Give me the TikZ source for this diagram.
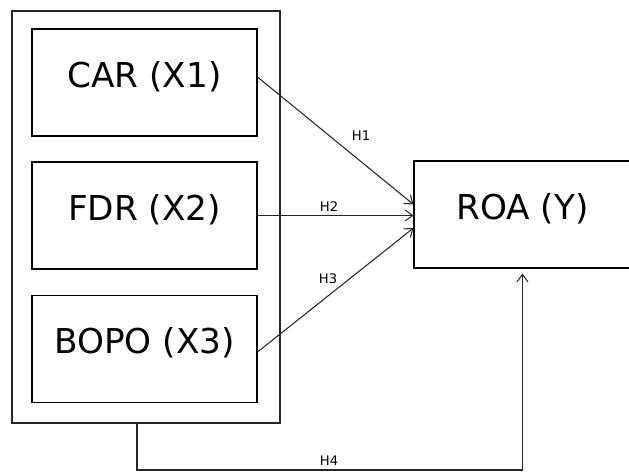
\documentclass[tikz,border=0pt]{standalone}
\usepackage{fontspec}
\usetikzlibrary{arrows.meta}
\setmainfont{DejaVu Sans}
\begin{document}
\begin{tikzpicture}[x=0.02cm, y=-0.02cm, line width=0.6pt,
    varbox/.style={draw, minimum width=4.5cm, minimum height=2.14cm,
      text height=0.5cm, text depth=0.32cm, inner sep=0pt,
      font=\fontsize{19.5}{23}\selectfont},
    hyp/.style={font=\fontsize{7.5}{9}\selectfont},
    link/.style={-{Straight Barb[length=0.15cm, width=0.22cm]}, black!85}]

    \useasboundingbox (0,0) rectangle (629,471);
    \clip (0,0) rectangle (629,471);

    \coordinate (GU) at (12, 11);
    \coordinate (GD) at (280, 423);
    \coordinate (HS) at (137, 423);
    \coordinate (HB) at (137, 470);

    \draw[black!85] (GU) rectangle (GD);

    \node[varbox] (car) at (144.5, 82.5) {CAR (X1)};
    \node[varbox] (fdr) at (144.5, 215.5) {FDR (X2)};
    \node[varbox] (bopo) at (144.5, 349) {BOPO (X3)};
    \node[varbox, minimum width=4.34cm] (roa) at (522.5, 214.5) {ROA (Y)};

    \draw[link] ([yshift=0.11cm]car.east) -- ([yshift=0.2cm]roa.west);
    \draw[link] (fdr.east) -- ([yshift=-0.02cm]roa.west);
    \draw[link] ([yshift=-0.06cm]bopo.east) -- ([yshift=-0.27cm]roa.west);
    \draw[link, shorten >=0.1cm] (HS) -- (HB) -| (roa.south);

    \node[hyp] (h1) at (361, 136) {H1};
    \node[hyp] (h2) at (329, 207) {H2};
    \node[hyp] (h3) at (328, 279) {H3};
    \node[hyp] (h4) at (329, 461) {H4};

  \end{tikzpicture}
\end{document}
